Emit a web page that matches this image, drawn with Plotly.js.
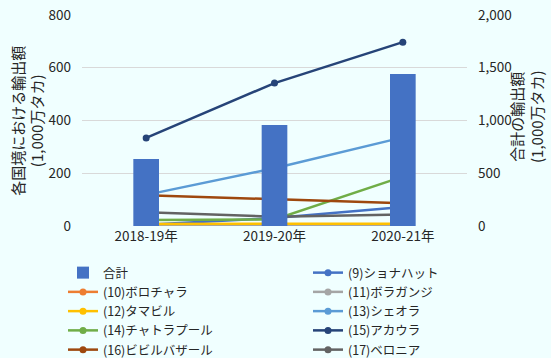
<!DOCTYPE html>
<html><head><meta charset="utf-8">
<script src="https://cdn.plot.ly/plotly-3.0.1.min.js"></script>
<style>html,body{margin:0;padding:0;background:#F0FFFF;}</style>
</head><body><div id="chart" style="width:551px;height:358px;"></div>
<script>
const years = ["2018-19年", "2019-20年", "2020-21年"];
const totalName = "合計";
const totalValues = [635, 957, 1441];
const names = ["(9)ショナハット", "(10)ボロチャラ", "(11)ボラガンジ", "(12)タマビル", "(13)シェオラ", "(14)チャトラプール", "(15)アカウラ", "(16)ビビルバザール", "(17)ベロニア"];
const s9 = [5, 30, 72];
const s10 = [3, 3, 4];
const s11 = [0, 1, 1];
const s12 = [8, 8, 9];
const s13 = [118, 219, 336];
const s14 = [23, 25, 187];
const s15 = [334, 542, 697];
const s16 = [117, 101, 86];
const s17 = [52, 35, 44];
const seriesValues = [s9, s10, s11, s12, s13, s14, s15, s16, s17];
const colors = ["#4472C4", "#ED7D31", "#A5A5A5", "#FFC000", "#5B9BD5", "#70AD47", "#264478", "#9E480E", "#636363"];
const leftTitle = "各国境における輸出額<br>(1,000万タカ)";
const rightTitle = "合計の輸出額<br>(1,000万タカ)";

const font = "'Noto Sans CJK JP', 'Noto Sans', sans-serif";
const txt = "#262626";
const traces = [{
  type: "bar", x: years, y: totalValues, name: totalName, yaxis: "y2",
  marker: {color: "#4472C4"}, width: 0.2, legend: "legend"
}];
names.forEach((n, i) => {
  traces.push({
    type: "scatter", mode: "lines+markers", x: years, y: seriesValues[i], name: n,
    line: {color: colors[i], width: 2.5}, marker: {color: colors[i], size: 7},
    legend: (i % 2 === 0) ? "legend2" : "legend"
  });
});

const legendBase = {orientation: "v", xref: "container", yref: "container",
  xanchor: "left", yanchor: "top", y: 1 - 258/358,
  font: {size: 12.5, color: txt}, bgcolor: "rgba(0,0,0,0)", traceorder: "normal",
  tracegroupgap: 0};

const layout = {
  width: 551, height: 358,
  paper_bgcolor: "#F0FFFF", plot_bgcolor: "#F0FFFF",
  font: {family: font, size: 13, color: txt},
  margin: {l: 82, r: 84, t: 15, b: 132, autoexpand: false},
  showlegend: true,
  xaxis: {type: "category", showgrid: false, zeroline: false, showline: false,
    tickfont: {size: 13.5, color: txt}, tickangle: 0},
  yaxis: {range: [0, 800], dtick: 200, showgrid: true, gridcolor: "#D9D9D9", gridwidth: 1,
    zeroline: false, showline: false, tickfont: {size: 13.5, color: txt},
    ticklabelstandoff: 10},
  yaxis2: {range: [0, 2000], dtick: 500, tickformat: ",", overlaying: "y", side: "right",
    showgrid: false, zeroline: false, showline: false, tickfont: {size: 13.5, color: txt},
    ticklabelstandoff: 10},
  legend: Object.assign({}, legendBase, {x: 63/551}),
  legend2: Object.assign({}, legendBase, {x: 308/551}),
  annotations: [
    {text: leftTitle, xref: "paper", yref: "paper", x: -0.142, y: 0.5, xanchor: "center", yanchor: "middle",
     textangle: -90, showarrow: false, font: {size: 15, color: txt}},
    {text: rightTitle, xref: "paper", yref: "paper", x: 1.155, y: 0.52, xanchor: "center", yanchor: "middle",
     textangle: -90, showarrow: false, font: {size: 15, color: txt}}
  ]
};
Plotly.newPlot("chart", traces, layout, {displayModeBar: false, staticPlot: true});
</script></body></html>
